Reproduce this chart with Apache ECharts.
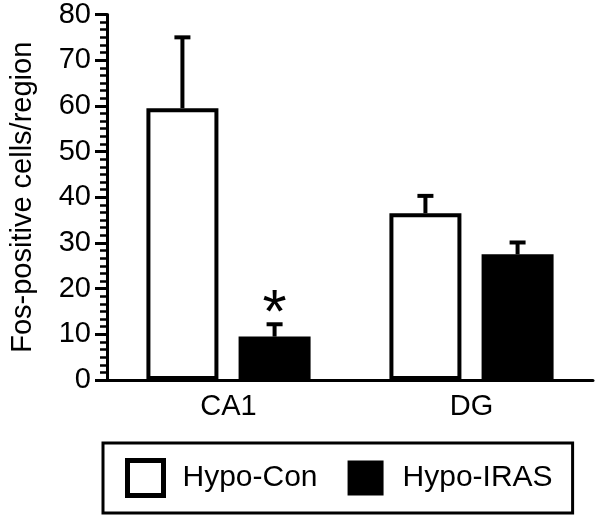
<!DOCTYPE html>
<html>
<head>
<meta charset="utf-8">
<script src="https://cdn.jsdelivr.net/npm/echarts@6/dist/echarts.min.js"></script>
<style>
  html, body { margin: 0; padding: 0; background: #fff; }
  #chart { width: 601px; height: 520px; }
</style>
</head>
<body>
<div id="chart"></div>
<script>
const categories = ["CA1", "DG"];
const hypoCon = [59.5, 36.5];
const hypoConSem = [15.5, 3.8];
const hypoIras = [9.5, 27.5];
const hypoIrasSem = [2.7, 2.6];
const significance = ["*", ""]; // Hypo-IRAS vs Hypo-Con

const FONT = "'Liberation Sans', Arial, sans-serif";
const BAR_WIDTH = 72;
const BAR_GAP = "28%";

const chart = echarts.init(document.getElementById("chart"));

// error bars (upper half only) + significance mark
function errorSeries(values, sems, seriesIdx, marks) {
  return {
    type: "custom",
    z: 5,
    silent: true,
    data: values.map((v, i) => [i, v, sems[i]]),
    encode: { x: 0, y: 1 },
    renderItem: (params, api) => {
      const layout = api.barLayout({ barWidth: BAR_WIDTH, barGap: BAR_GAP, count: 2 });
      const off = layout[seriesIdx].offsetCenter;
      const base = api.coord([api.value(0), api.value(1)]);
      const top = api.coord([api.value(0), api.value(1) + api.value(2)]);
      const x = base[0] + off;
      const children = [
        {
          type: "line",
          shape: { x1: x, y1: base[1], x2: x, y2: top[1] },
          style: { stroke: "#000", lineWidth: 4 },
        },
        {
          type: "line",
          shape: { x1: x - 8, y1: top[1], x2: x + 8, y2: top[1] },
          style: { stroke: "#000", lineWidth: 4 },
        },
      ];
      const mark = marks ? marks[params.dataIndex] : "";
      if (mark) {
        children.push({
          type: "text",
          x: x,
          y: top[1] - 40,
          style: {
            text: mark,
            fontSize: 62,
            fontFamily: FONT,
            fill: "#000",
            align: "center",
            verticalAlign: "top",
          },
        });
      }
      return { type: "group", children: children };
    },
  };
}

const option = {
  animation: false,
  backgroundColor: "#fff",
  textStyle: { fontFamily: FONT, color: "#000" },
  grid: { left: 104, right: 8, top: 13, bottom: 140 },
  legend: {
    left: 103,
    top: 443,
    icon: "rect",
    itemWidth: 36,
    itemHeight: 35,
    itemGap: 30,
    padding: [15, 20, 15, 22],
    borderColor: "#000",
    borderWidth: 3,
    borderRadius: 0,
    textStyle: { fontSize: 30, color: "#000", fontFamily: FONT, padding: [0, 0, 0, 14] },
    data: [
      { name: "Hypo-Con", itemStyle: { borderWidth: 5, borderColor: "#000" } },
      { name: "Hypo-IRAS", itemStyle: { borderWidth: 0 } },
    ],
  },
  xAxis: {
    type: "category",
    data: categories,
    axisLine: { lineStyle: { color: "#000", width: 3 } },
    axisTick: { show: false },
    axisLabel: { fontSize: 29, color: "#000", fontFamily: FONT, margin: 12 },
  },
  yAxis: {
    type: "value",
    min: 0,
    max: 80,
    interval: 10,
    name: "Fos-positive cells/region",
    nameLocation: "middle",
    nameGap: 70,
    nameTextStyle: { fontSize: 29, color: "#000", fontFamily: FONT },
    axisLine: { show: true, lineStyle: { color: "#000", width: 3 } },
    axisTick: { show: true, length: 12, lineStyle: { color: "#000", width: 3 } },
    minorTick: { show: true, splitNumber: 6, length: 7, lineStyle: { color: "#000", width: 2.5 } },
    splitLine: { show: false },
    axisLabel: { fontSize: 29, color: "#000", fontFamily: FONT, margin: 16 },
  },
  series: [
    {
      name: "Hypo-Con",
      type: "bar",
      data: hypoCon,
      barWidth: BAR_WIDTH,
      barGap: BAR_GAP,
      itemStyle: { color: "#fff", borderColor: "#000", borderWidth: 4 },
    },
    {
      name: "Hypo-IRAS",
      type: "bar",
      data: hypoIras,
      barWidth: BAR_WIDTH,
      barGap: BAR_GAP,
      itemStyle: { color: "#000", borderColor: "#000", borderWidth: 4 },
    },
    errorSeries(hypoCon, hypoConSem, 0, null),
    errorSeries(hypoIras, hypoIrasSem, 1, significance),
  ],
};

chart.setOption(option);
</script>
</body>
</html>
